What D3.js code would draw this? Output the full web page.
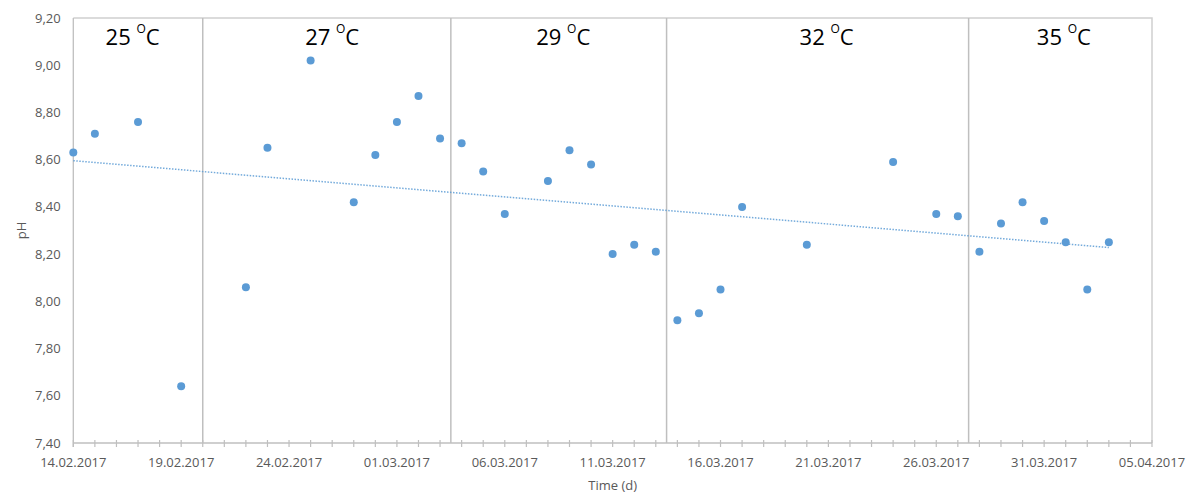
<!DOCTYPE html>
<html>
<head>
<meta charset="utf-8">
<script src="https://cdn.jsdelivr.net/npm/d3@7"></script>
<style>
  html, body { margin: 0; padding: 0; background: #fff; }
  svg { display: block; }
</style>
</head>
<body>
<svg id="chart" width="1186" height="493"></svg>
<script>
// ---- data ----
const dates = ["14.02.2017","15.02.2017","17.02.2017","19.02.2017","22.02.2017","23.02.2017","25.02.2017","27.02.2017","28.02.2017",
  "01.03.2017","02.03.2017","03.03.2017","04.03.2017","05.03.2017","06.03.2017","08.03.2017","09.03.2017","10.03.2017",
  "11.03.2017","12.03.2017","13.03.2017","14.03.2017","15.03.2017","16.03.2017","17.03.2017","20.03.2017","24.03.2017",
  "26.03.2017","27.03.2017","28.03.2017","29.03.2017","30.03.2017","31.03.2017","01.04.2017","02.04.2017","03.04.2017"];
const phValues = [8.63,8.71,8.76,7.64,8.06,8.65,9.02,8.42,8.62,
  8.76,8.87,8.69,8.67,8.55,8.37,8.51,8.64,8.58,
  8.20,8.24,8.21,7.92,7.95,8.05,8.40,8.24,8.59,
  8.37,8.36,8.21,8.33,8.42,8.34,8.25,8.05,8.25];
// temperature phase boundaries (dates, incl. half days)
const phaseBounds = ["20.02.2017 00","03.03.2017 12","13.03.2017 12","27.03.2017 12"];
const phaseLabels = ["25","27","29","32","35"];
const phaseLabelDates = ["16.02.2017 18","26.02.2017 00","08.03.2017 17","20.03.2017 22","31.03.2017 22"];
const xDomain = ["14.02.2017","05.04.2017"];
const yTicks = [7.4,7.6,7.8,8.0,8.2,8.4,8.6,8.8,9.0,9.2];

// ---- setup ----
const parse = d3.timeParse("%d.%m.%Y");
const parseH = d3.timeParse("%d.%m.%Y %H");
const fmt = d3.timeFormat("%d.%m.%Y");
const data = dates.map((d,i) => ({date: parse(d), v: phValues[i]}));

const L = 73.3, R = 1152, T = 18, B = 443;
const x = d3.scaleTime().domain(xDomain.map(parse)).range([L, R]);
const y = d3.scaleLinear().domain([7.4, 9.2]).range([B, T]);

const svg = d3.select("#chart");
const font = "'Open Sans', sans-serif";
const gray = "#bfbfbf";
const textGray = "#595959";
const blue = "#5b9bd5";

// plot border (top & right)
svg.append("path")
  .attr("d", `M${L},${T}H${R}V${B}`)
  .attr("fill", "none").attr("stroke", "#d0d0d0").attr("stroke-width", 1.5);

// x axis
const dayTicks = d3.timeDay.range(x.domain()[0], d3.timeDay.offset(x.domain()[1], 1));
const labelTicks = dayTicks.filter((d,i) => i % 5 === 0);
const xAxisG = svg.append("g").attr("transform", `translate(0,${B})`);
xAxisG.append("line").attr("x1", L).attr("x2", R).attr("stroke", gray).attr("stroke-width", 1.3);
xAxisG.selectAll("line.tick").data(dayTicks).join("line")
  .attr("class","tick")
  .attr("x1", d => x(d)).attr("x2", d => x(d))
  .attr("y1", -3).attr("y2", 4)
  .attr("stroke", gray).attr("stroke-width", 1.2);
xAxisG.selectAll("text").data(labelTicks).join("text")
  .attr("x", d => x(d)).attr("y", 24)
  .attr("text-anchor", "middle")
  .attr("font-family", font).attr("font-size", 13)
  .attr("fill", textGray)
  .text(d => fmt(d));

// y axis
svg.append("line").attr("x1", L).attr("x2", L).attr("y1", T).attr("y2", B + 4)
  .attr("stroke", gray).attr("stroke-width", 1.3);
const yfmt = d3.format(".2f");
svg.append("g").selectAll("text").data(yTicks).join("text")
  .attr("x", 60.7).attr("y", d => y(d)).attr("dy", "0.35em")
  .attr("text-anchor", "end")
  .attr("font-family", font).attr("font-size", 13)
  .attr("fill", textGray)
  .text(d => yfmt(d).replace(".", ","));

// phase separators
const bounds = phaseBounds.map(parseH);
svg.append("g").selectAll("line").data(bounds).join("line")
  .attr("x1", d => x(d)).attr("x2", d => x(d))
  .attr("y1", T).attr("y2", B)
  .attr("stroke", gray).attr("stroke-width", 1.5);

// phase labels
const lab = svg.append("g").selectAll("text").data(phaseLabels).join("text")
  .attr("x", (d,i) => x(parseH(phaseLabelDates[i])))
  .attr("y", 45)
  .attr("text-anchor", "middle")
  .attr("font-family", font).attr("font-size", 22)
  .attr("fill", "#000");
lab.append("tspan").text(d => d + " ");
lab.append("tspan").attr("font-size", 12).attr("dy", -12).text("O");
lab.append("tspan").attr("dy", 12).text("C");

// trendline (least squares)
const t0 = x.domain()[0].getTime();
const xs = data.map(d => (d.date.getTime() - t0) / 864e5);
const n = xs.length;
const mx = d3.mean(xs), my = d3.mean(phValues);
const slope = d3.sum(xs.map((xi,i) => (xi-mx)*(phValues[i]-my))) / d3.sum(xs.map(xi => (xi-mx)*(xi-mx)));
const icpt = my - slope * mx;
const first = data[0].date, last = data[n-1].date;
const trendPts = [first, last].map(d => [x(d), y(icpt + slope * (d.getTime()-t0)/864e5)]);
svg.append("path")
  .attr("d", d3.line()(trendPts))
  .attr("fill", "none")
  .attr("stroke", blue).attr("stroke-opacity", 0.85)
  .attr("stroke-width", 1.5)
  .attr("stroke-dasharray", "1.5,1.5");

// points
svg.append("g").selectAll("circle").data(data).join("circle")
  .attr("cx", d => x(d.date)).attr("cy", d => y(d.v))
  .attr("r", 4)
  .attr("fill", blue);

// axis titles
svg.append("text")
  .attr("x", (L + R) / 2).attr("y", 490)
  .attr("text-anchor", "middle")
  .attr("font-family", font).attr("font-size", 13)
  .attr("fill", textGray)
  .text("Time (d)");
svg.append("text")
  .attr("transform", `translate(26,${(T + B) / 2}) rotate(-90)`)
  .attr("text-anchor", "middle")
  .attr("font-family", font).attr("font-size", 13)
  .attr("fill", textGray)
  .text("pH");
</script>
</body>
</html>
